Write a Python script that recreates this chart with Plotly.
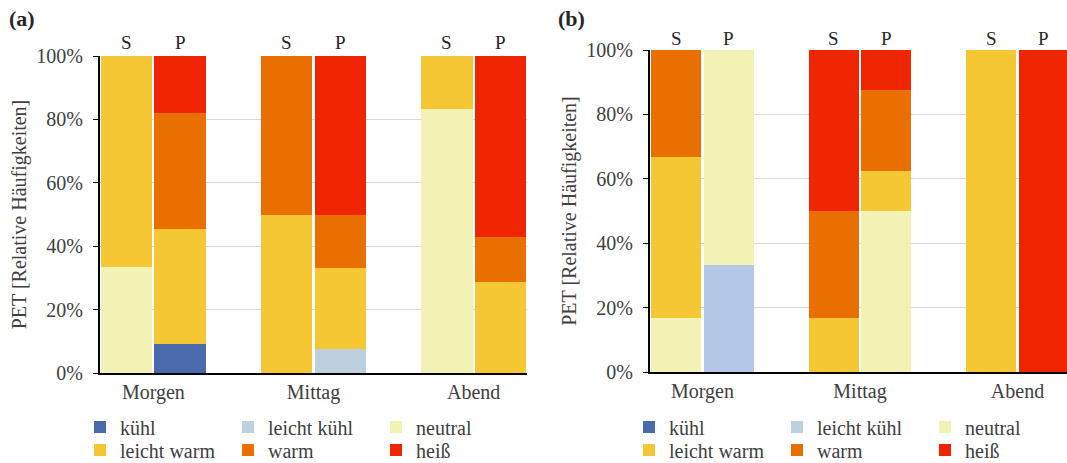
import plotly.graph_objects as go

# ---------------- data ----------------
bar_labels = ["S", "P", "S", "P", "S", "P"]
times = ["Morgen", "Mittag", "Abend"]
categories = ["kühl", "leicht kühl", "neutral", "leicht warm", "warm", "heiß"]
colors = ["#4a6aab", "#bcd1dd", "#f1f2b3", "#f6c734", "#e86f00", "#ee2500"]
colors_b = ["#4a6aab", "#b4c7e7", "#f1f2b3", "#f6c734", "#e86f00", "#ee2500"]

# order: Morgen S, Morgen P, Mittag S, Mittag P, Abend S, Abend P  (percent)
a_kuehl        = [0, 9.1, 0, 0, 0, 0]
a_leicht_kuehl = [0, 0, 0, 7.7, 0, 0]
a_neutral      = [33.3, 0, 0, 0, 83.3, 0]
a_leicht_warm  = [66.7, 36.4, 50.0, 25.3, 16.7, 28.6]
a_warm         = [0, 36.4, 50.0, 17.0, 0, 14.3]
a_heiss        = [0, 18.1, 0, 50.0, 0, 57.1]

b_kuehl        = [0, 0, 0, 0, 0, 0]
b_leicht_kuehl = [0, 33.3, 0, 0, 0, 0]
b_neutral      = [16.7, 66.7, 0, 50.0, 0, 0]
b_leicht_warm  = [50.0, 0, 16.7, 12.5, 100, 0]
b_warm         = [33.3, 0, 33.3, 25.0, 0, 0]
b_heiss        = [0, 0, 50.0, 12.5, 0, 100]

yticks = [0, 20, 40, 60, 80, 100]
ytick_labels = ["0%", "20%", "40%", "60%", "80%", "100%"]
# --------------------------------------

series_a = [a_kuehl, a_leicht_kuehl, a_neutral, a_leicht_warm, a_warm, a_heiss]
series_b = [b_kuehl, b_leicht_kuehl, b_neutral, b_leicht_warm, b_warm, b_heiss]

# slot positions: S, P, (gap), S, P, (gap), S, P
xpos = [0, 1, 3, 4, 6, 7]
centers = [0.5, 3.5, 6.5]

FONT = "Liberation Serif, Times New Roman, Times, serif"
TXT = "#404040"
W, H = 1067, 463

fig = go.Figure()
for i, (cat, vals) in enumerate(zip(categories, series_a)):
    fig.add_trace(go.Bar(
        x=xpos, y=vals, name=cat, marker=dict(color=colors[i], line=dict(width=0)),
        width=0.96, xaxis="x", yaxis="y",
        legend="legend" if i < 3 else "legend2", showlegend=True))
for i, (cat, vals) in enumerate(zip(categories, series_b)):
    fig.add_trace(go.Bar(
        x=xpos, y=vals, name=cat, marker=dict(color=colors_b[i], line=dict(width=0)),
        width=0.96, xaxis="x2", yaxis="y2", showlegend=False))
# legend entries for panel (b) use the common legend colours
for i, cat in enumerate(categories):
    fig.add_trace(go.Bar(
        x=[None], y=[None], name=cat, marker=dict(color=colors[i], line=dict(width=0)),
        xaxis="x2", yaxis="y2",
        legend="legend3" if i < 3 else "legend4", showlegend=True))


def px_x(p):
    return p / W


def px_y(p):
    return 1 - p / H


tickfont = dict(family=FONT, size=20, color=TXT)

xa = dict(range=[-0.5, 7.5], showgrid=False, zeroline=False, showline=True,
          linecolor="#000000", linewidth=2, ticks="",
          tickmode="array", tickvals=centers, ticktext=times,
          tickfont=tickfont, fixedrange=True, automargin=False)
ya = dict(range=[0, 100], tickmode="array", tickvals=yticks, ticktext=ytick_labels,
          showgrid=True, gridcolor="#d9d9d9", gridwidth=1, zeroline=False,
          showline=True, linecolor="#000000", linewidth=2,
          ticks="outside", ticklen=5, tickcolor="#000000", tickwidth=1,
          ticklabelstandoff=6,
          tickfont=tickfont, automargin=False,
          title=dict(text="PET [Relative Häufigkeiten]",
                     font=dict(family=FONT, size=20, color=TXT), standoff=4),
          fixedrange=True)

leg_common = dict(orientation="h", font=dict(family=FONT, size=20, color=TXT),
                  bgcolor="rgba(0,0,0,0)", entrywidth=103, entrywidthmode="pixels",
                  xanchor="left", yanchor="middle", itemwidth=30,
                  tracegroupgap=0, traceorder="normal")

fig.update_layout(
    template="none",
    width=W, height=H, margin=dict(l=0, r=0, t=0, b=0, autoexpand=False),
    plot_bgcolor="white", paper_bgcolor="white",
    barmode="stack", bargap=0,
    font=dict(family=FONT, color=TXT, size=20),
    xaxis=dict(xa, domain=[px_x(100), px_x(527)], anchor="y"),
    yaxis=dict(ya, domain=[px_y(373), px_y(56)], anchor="x"),
    xaxis2=dict(xa, domain=[px_x(650), 1.0], anchor="y2",
                range=[-0.5, -0.5 + (W - 650) / 52.5]),
    yaxis2=dict(ya, domain=[px_y(372), px_y(50)], anchor="x2"),
    legend=dict(leg_common, x=px_x(80), y=px_y(427)),
    legend2=dict(leg_common, x=px_x(80), y=px_y(450)),
    legend3=dict(leg_common, x=px_x(629), y=px_y(427)),
    legend4=dict(leg_common, x=px_x(629), y=px_y(450)),
)

annotations = []
for xr, ytop in (("x", 43), ("x2", 38)):
    for xp, lab in zip(xpos, bar_labels):
        annotations.append(dict(x=xp, y=px_y(ytop), xref=xr, yref="paper",
                                text=lab, showarrow=False,
                                font=dict(family=FONT, size=19, color="#262626"),
                                xanchor="center", yanchor="middle"))
annotations.append(dict(x=px_x(7), y=px_y(18), xref="paper", yref="paper",
                        text="<b>(a)</b>", showarrow=False, xanchor="left",
                        yanchor="middle", font=dict(family=FONT, size=22, color="#262626")))
annotations.append(dict(x=px_x(556), y=px_y(18), xref="paper", yref="paper",
                        text="<b>(b)</b>", showarrow=False, xanchor="left",
                        yanchor="middle", font=dict(family=FONT, size=22, color="#262626")))
fig.update_layout(annotations=annotations)

fig.write_html("out.html")
